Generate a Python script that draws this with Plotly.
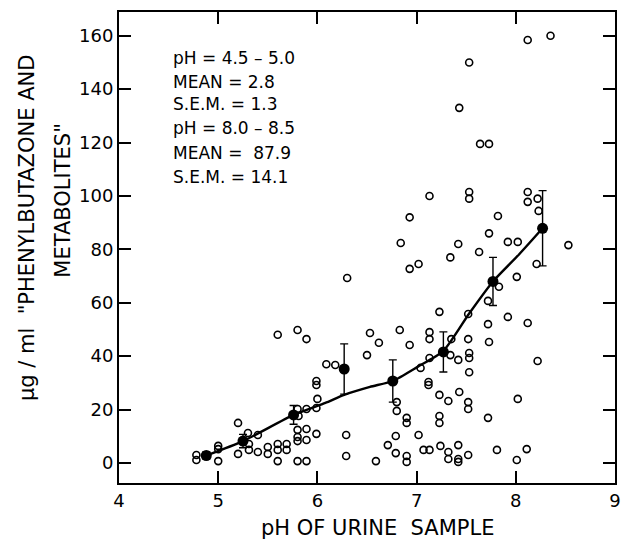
import plotly.graph_objects as go

# Individual samples: urine pH and concentration (µg/ml)
sample_ph = [8.12, 8.35, 7.53, 7.43, 7.64, 7.73, 7.13, 7.53, 7.53, 8.12, 8.12, 8.22, 8.23,
             6.93, 7.82, 6.84, 7.42, 7.92, 8.02, 8.53, 7.73, 7.63, 7.34, 6.93, 7.02, 8.21,
             8.01, 7.83, 7.72, 7.23, 7.52, 7.92, 8.12, 7.72, 6.83, 7.13, 7.13, 6.53, 6.62,
             6.93, 7.35, 7.52, 7.73, 6.30, 5.60, 5.80, 5.89,
             6.50, 6.09, 6.18, 5.99, 5.99, 6.00, 5.99, 5.89, 5.80, 5.81, 5.20, 5.89, 5.80,
             5.30, 5.40, 5.99, 6.29, 5.80, 5.80, 5.89, 5.60, 5.69, 5.50, 5.00, 5.31, 5.60,
             5.69, 5.50, 5.00, 5.31, 5.40, 5.20, 4.78, 4.78, 5.00, 5.60, 5.80, 5.89, 6.29,
             6.59,
             7.34, 7.42, 7.53, 7.53, 8.22, 7.13, 7.04, 7.53, 7.12, 7.12, 7.23, 7.43, 7.32,
             7.52, 7.52, 8.02, 6.80, 6.80, 6.90, 6.90, 7.23, 7.23, 7.72, 6.79, 7.02, 6.71,
             7.07, 7.13, 7.24, 7.32, 7.42, 7.81, 8.11, 6.79, 7.52, 6.90, 6.90, 7.32, 7.42,
             7.42, 8.01]
sample_val = [158.4, 160.0, 150.0, 133.0, 119.5, 119.5, 100.0, 101.5, 99.0, 101.5, 97.8, 99.0, 94.4,
              92.0, 92.5, 82.4, 82.0, 82.8, 82.8, 81.6, 86.0, 79.0, 77.0, 72.7, 74.5, 74.5,
              69.7, 66.0, 60.7, 56.6, 55.8, 54.7, 52.4, 52.0, 49.8, 49.0, 46.4, 48.7, 45.0,
              44.2, 46.4, 46.4, 45.3, 69.3, 48.0, 49.8, 46.4,
              40.4, 37.0, 36.7, 30.7, 29.2, 24.0, 20.6, 20.2, 20.2, 17.6, 15.0, 12.7, 12.4,
              11.2, 10.5, 10.9, 10.5, 9.7, 8.2, 8.6, 7.1, 7.1, 6.0, 6.4, 7.1, 4.9,
              4.9, 3.4, 5.2, 4.9, 4.1, 3.4, 3.0, 1.1, 0.7, 0.7, 0.7, 0.7, 2.6,
              0.7,
              40.4, 38.6, 41.2, 39.3, 38.2, 39.3, 35.6, 34.0, 30.3, 29.2, 25.5, 26.6, 23.2,
              22.8, 20.2, 24.0, 22.8, 19.5, 16.9, 15.0, 17.6, 15.0, 16.9, 10.1, 10.5, 6.7,
              4.9, 4.9, 6.4, 4.1, 6.7, 4.9, 5.2, 3.7, 3.0, 2.6, 0.4, 1.5, 1.5,
              0.4, 1.1]

# Group means (0.5 pH bins) with S.E.M.
mean_ph = [4.88, 5.25, 5.76, 6.27, 6.76, 7.27, 7.77, 8.27]
mean_val = [2.8, 8.2, 18.0, 35.2, 30.7, 41.6, 68.0, 87.9]
mean_sem = [1.3, 2.5, 3.5, 9.4, 7.9, 7.5, 9.0, 14.1]

# Hand-drawn trend curve
fit_ph = [4.88, 5.25, 5.76, 6.08, 6.27, 6.53, 6.76, 7.01, 7.27, 7.53, 7.77, 8.03, 8.27]
fit_val = [2.8, 8.2, 18.0, 22.5, 25.5, 28.5, 30.7, 36.0, 42.0, 56.0, 68.0, 78.0, 87.9]

x_ticks = [4, 5, 6, 7, 8, 9]
y_ticks = [0, 20, 40, 60, 80, 100, 120, 140, 160]

stats_lines = ["pH = 4.5 – 5.0", "MEAN = 2.8", "S.E.M. = 1.3",
               "pH = 8.0 – 8.5", "MEAN =  87.9", "S.E.M. = 14.1"]

FONT = "DejaVu Sans"

fig = go.Figure()
fig.add_trace(go.Scatter(
    x=sample_ph, y=sample_val, mode="markers",
    marker=dict(symbol="circle-open", size=7, color="black", line=dict(width=1.6, color="black")),
    hoverinfo="x+y", showlegend=False))
fig.add_trace(go.Scatter(
    x=fit_ph, y=fit_val, mode="lines",
    line=dict(color="black", width=2.4, shape="spline", smoothing=0.6),
    hoverinfo="skip", showlegend=False))
fig.add_trace(go.Scatter(
    x=mean_ph, y=mean_val, mode="markers",
    marker=dict(symbol="circle", size=11, color="black"),
    error_y=dict(type="data", array=mean_sem, visible=True, color="black", thickness=1.4, width=4),
    showlegend=False))

# Plot domain in pixels: x 119..621, y 12..483
L, R, T, B = 119, 8, 12, 64
W, H = 629, 547
pw, ph = W - L - R, H - T - B

def px(x):
    return (x - L) / pw

def py(y):
    return (H - B - y) / ph

ys = [58, 82, 104, 128, 153, 177]
for txt, yy in zip(stats_lines, ys):
    fig.add_annotation(text=txt, x=px(172), y=py(yy), xref="paper", yref="paper",
                       xanchor="left", yanchor="middle", showarrow=False,
                       font=dict(family=FONT, size=17, color="black"))

fig.add_annotation(text="pH OF URINE  SAMPLE", x=px(381), y=py(528), xref="paper", yref="paper",
                   xanchor="center", yanchor="middle", showarrow=False,
                   font=dict(family=FONT, size=21, color="black"))
fig.add_annotation(text='µg / ml  "PHENYLBUTAZONE AND', x=px(26), y=py(228), xref="paper", yref="paper",
                   xanchor="center", yanchor="middle", showarrow=False, textangle=-90,
                   font=dict(family=FONT, size=21, color="black"))
fig.add_annotation(text='METABOLITES"', x=px(62), y=py(200), xref="paper", yref="paper",
                   xanchor="center", yanchor="middle", showarrow=False, textangle=-90,
                   font=dict(family=FONT, size=21, color="black"))

axis_common = dict(showline=True, linecolor="black", linewidth=2, mirror="ticks",
                   ticks="inside", ticklen=12, tickwidth=2, tickcolor="black",
                   showgrid=False, zeroline=False,
                   tickfont=dict(family=FONT, size=18, color="black"))
fig.update_xaxes(range=[4, 9], tickvals=x_ticks, **axis_common)
fig.update_yaxes(range=[-7.5, 168.9], tickvals=y_ticks, **axis_common)

fig.update_layout(width=W, height=H, margin=dict(l=L, r=R, t=T, b=B),
                  plot_bgcolor="white", paper_bgcolor="white", showlegend=False)

fig.write_html("out.html")
